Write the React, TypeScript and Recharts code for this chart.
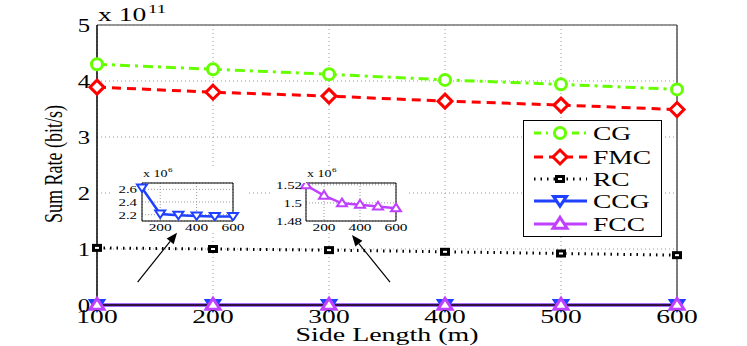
import React from 'react';
import { LineChart, Line, XAxis, YAxis, CartesianGrid, ReferenceLine, ReferenceArea, Legend } from 'recharts';

const xValues = [100, 200, 300, 400, 500, 600];
const cgValues = [4.30, 4.21, 4.12, 4.02, 3.94, 3.85];
const fmcValues = [3.89, 3.80, 3.73, 3.64, 3.57, 3.49];
const rcValues = [1.02, 1.00, 0.98, 0.95, 0.92, 0.89];
// inset values in units of 1e6
const ccgValues = [2.62, 2.21, 2.19, 2.18, 2.17, 2.17];
const fccValues = [1.5195, 1.508, 1.4995, 1.498, 1.496, 1.494];
const yTicks = [0, 1, 2, 3, 4, 5];
const xTicks = [100, 200, 300, 400, 500, 600];
const insetXTicks = [200, 400, 600];
const ccgTicks = [2.2, 2.4, 2.6];
const fccTicks = [1.48, 1.5, 1.52];
const seriesNames = ['CG', 'FMC', 'RC', 'CCG', 'FCC'];

const GREEN = '#66ff00';
const RED = '#ff0000';
const BLUE = '#2040ff';
const PURPLE = '#bf40ff';
const FONT = 'Liberation Serif, Times New Roman, serif';

const mainData = xValues.map((x, i) => ({
  x,
  CG: cgValues[i],
  FMC: fmcValues[i],
  RC: rcValues[i],
  CCG: (ccgValues[i] * 1e6) / 1e11,
  FCC: (fccValues[i] * 1e6) / 1e11,
}));
const ccgData = xValues.map((x, i) => ({ x, v: ccgValues[i] }));
const fccData = xValues.map((x, i) => ({ x, v: fccValues[i] }));

function StretchTick(p: any) {
  const { x, y, payload, ox = 0, oy = 0, anch = 'middle', size = 19, sx = 1.45, fmt } = p;
  const val = fmt ? fmt(payload.value) : payload.value;
  return (
    <text transform={`translate(${x + ox},${y + oy}) scale(${sx},1)`} textAnchor={anch} fontFamily={FONT} fontSize={size} fill="#000">
      {val}
    </text>
  );
}

const CircleDot = (p: any) => (p.cx == null ? <g /> : <circle cx={p.cx} cy={p.cy} r={5.5} fill="#fff" stroke={GREEN} strokeWidth={3} />);
const DiamondDot = (p: any) =>
  p.cx == null ? <g /> : (
    <polygon points={`${p.cx},${p.cy - 7} ${p.cx + 7},${p.cy} ${p.cx},${p.cy + 7} ${p.cx - 7},${p.cy}`} fill="#fff" stroke={RED} strokeWidth={3} />
  );
const SquareDot = (p: any) =>
  p.cx == null ? <g /> : (
    <g>
      <rect x={p.cx - 5} y={p.cy - 4} width={10} height={8} fill="#000" />
      <rect x={p.cx - 2} y={p.cy - 1} width={4} height={2} fill="#fff" />
    </g>
  );
const makeDown = (s: number, color: string, w: number) => (p: any) =>
  p.cx == null ? <g /> : (
    <polygon points={`${p.cx - s},${p.cy - s * 0.7} ${p.cx + s},${p.cy - s * 0.7} ${p.cx},${p.cy + s * 0.8}`} fill="#fff" stroke={color} strokeWidth={w} strokeLinejoin="miter" />
  );
const makeUp = (s: number, color: string, w: number) => (p: any) =>
  p.cx == null ? <g /> : (
    <polygon points={`${p.cx},${p.cy - s * 0.95} ${p.cx + s},${p.cy + s * 0.6} ${p.cx - s},${p.cy + s * 0.6}`} fill="#fff" stroke={color} strokeWidth={w} strokeLinejoin="miter" />
  );
const DownBig = makeDown(6.5, BLUE, 3);
const UpBig = makeUp(7, PURPLE, 3);
const DownSmall = makeDown(5, BLUE, 2);
const UpSmall = makeUp(5, PURPLE, 2);

const Arrow = (p: any) => {
  const { x1, y1, x2, y2 } = p;
  if (x1 == null) return <g />;
  const dx = x2 - x1;
  const dy = y2 - y1;
  const len = Math.sqrt(dx * dx + dy * dy);
  const ux = dx / len;
  const uy = dy / len;
  const hl = 11;
  const hw = 4.5;
  const bx = x2 - ux * hl;
  const by = y2 - uy * hl;
  return (
    <g>
      <line x1={x1} y1={y1} x2={bx} y2={by} stroke="#000" strokeWidth={1.2} />
      <polygon points={`${x2},${y2} ${bx - uy * hw},${by + ux * hw} ${bx + uy * hw},${by - ux * hw}`} fill="#000" />
    </g>
  );
};

const legendStyles = [
  { name: seriesNames[0], color: GREEN, dash: '7 5 2 5', Dot: CircleDot },
  { name: seriesNames[1], color: RED, dash: '9 6', Dot: DiamondDot },
  { name: seriesNames[2], color: '#000', dash: '1.5 5', Dot: SquareDot },
  { name: seriesNames[3], color: BLUE, dash: undefined, Dot: DownBig },
  { name: seriesNames[4], color: PURPLE, dash: undefined, Dot: UpBig },
];

const LegendBox = () => {
  const rows = [13, 37, 59, 81, 104];
  return (
    <svg width={139} height={117} style={{ display: 'block' }}>
      <rect x={0.5} y={0.5} width={138} height={116} fill="#fff" stroke="#000" strokeWidth={1} />
      {legendStyles.map((s, i) => {
        const D = s.Dot;
        return (
          <g key={s.name}>
            <line x1={11} y1={rows[i]} x2={64} y2={rows[i]} stroke={s.color} strokeWidth={3} strokeDasharray={s.dash} />
            <D cx={37} cy={rows[i]} />
            <text transform={`translate(70,${rows[i] + 7}) scale(1.45,1)`} fontFamily={FONT} fontSize={19} fill="#000">
              {s.name}
            </text>
          </g>
        );
      })}
    </svg>
  );
};

export default function App() {
  return (
    <div style={{ position: 'absolute', left: 0, top: 0, width: 747, height: 346, background: '#fff' }}>
      <LineChart width={747} height={346} data={mainData} margin={{ top: 25, right: 70, left: 0, bottom: 0 }}>
        <CartesianGrid strokeDasharray="1 3" stroke="#9a9a9a" />
        <XAxis
          dataKey="x"
          type="number"
          domain={[100, 600]}
          ticks={xTicks}
          height={41}
          tickLine={false}
          tickSize={0}
          tickMargin={0}
          axisLine={{ stroke: '#000', strokeWidth: 1.5 }}
          tick={(p: any) => <StretchTick {...p} oy={18} anch="middle" size={19} sx={1.45} />}
          interval={0}
        />
        <YAxis
          type="number"
          domain={[0, 5]}
          ticks={yTicks}
          width={97}
          tickLine={false}
          tickSize={0}
          tickMargin={0}
          axisLine={{ stroke: '#000', strokeWidth: 1.5 }}
          tick={(p: any) => <StretchTick {...p} ox={-7} oy={7} anch="end" size={19} sx={1.3} />}
          interval={0}
        />
        <ReferenceLine y={5} stroke="#777" strokeWidth={1.5} />
        <ReferenceLine x={600} stroke="#555" strokeWidth={1.5} />
        <ReferenceLine segment={[{ x: 135, y: 0.41 }, { x: 169, y: 1.29 }]} stroke="#000" shape={Arrow} ifOverflow="visible" />
        <ReferenceLine segment={[{ x: 352.6, y: 0.41 }, { x: 319.8, y: 1.25 }]} stroke="#000" shape={Arrow} ifOverflow="visible" />
        <Line dataKey="CG" stroke={GREEN} strokeWidth={3} strokeDasharray="10 5 3 5" dot={CircleDot} isAnimationActive={false} />
        <Line dataKey="FMC" stroke={RED} strokeWidth={3} strokeDasharray="9 6" dot={DiamondDot} isAnimationActive={false} />
        <Line dataKey="RC" stroke="#000" strokeWidth={3} strokeDasharray="1.5 5" dot={SquareDot} isAnimationActive={false} />
        <Line dataKey="CCG" stroke={BLUE} strokeWidth={3} dot={DownBig} isAnimationActive={false} />
        <Line dataKey="FCC" stroke={PURPLE} strokeWidth={3} dot={UpBig} isAnimationActive={false} />
        <Legend
          layout="horizontal"
          verticalAlign="middle"
          align="center"
          content={() => <LegendBox />}
          wrapperStyle={{ position: 'absolute', left: 523, top: 120, width: 139, height: 117 }}
        />
        <text transform="translate(98,21) scale(1.45,1)" fontFamily={FONT} fontSize={19} fill="#000">
          x 10
        </text>
        <text transform="translate(148,13) scale(1.45,1)" fontFamily={FONT} fontSize={13} fill="#000">
          11
        </text>
        <text transform="translate(387,341) scale(1.47,1)" textAnchor="middle" fontFamily={FONT} fontSize={19} fill="#000">
          Side Length (m)
        </text>
        <text transform="translate(62,164) scale(1.35,1) rotate(-90)" textAnchor="middle" fontFamily={FONT} fontSize={18} fill="#000">
          Sum Rate (bit/s)
        </text>
      </LineChart>

      <div style={{ position: 'absolute', left: 112, top: 166, width: 134, height: 66, background: '#fff' }}>
        <LineChart width={134} height={66} data={ccgData} margin={{ top: 17, right: 13, left: 0, bottom: 0 }}>
          <CartesianGrid strokeDasharray="1 2" stroke="#9a9a9a" />
          <XAxis dataKey="x" type="number" domain={[100, 600]} ticks={insetXTicks} height={11} tickLine={false} tickSize={0} tickMargin={0} axisLine={false}
            tick={(p: any) => <StretchTick {...p} oy={10} anch="middle" size={11} sx={1.4} />} interval={0} />
          <YAxis type="number" domain={[2.1, 2.7]} ticks={ccgTicks} width={30} tickLine={false} tickSize={0} tickMargin={0} axisLine={false} allowDataOverflow
            tick={(p: any) => <StretchTick {...p} ox={-5} oy={4} anch="end" size={11} sx={1.35} fmt={(v: number) => v.toFixed(1)} />} interval={0} />
          <ReferenceArea x1={100} x2={600} y1={2.1} y2={2.7} fill="none" stroke="#000" strokeWidth={1} ifOverflow="visible" />
          <Line dataKey="v" stroke={BLUE} strokeWidth={2.5} dot={DownSmall} isAnimationActive={false} />
          <text transform="translate(31,11) scale(1.4,1)" fontFamily={FONT} fontSize={10} fill="#000">x 10</text>
          <text transform="translate(56,6) scale(1.3,1)" fontFamily={FONT} fontSize={7} fill="#000">6</text>
        </LineChart>
      </div>

      <div style={{ position: 'absolute', left: 273, top: 166, width: 136, height: 66, background: '#fff' }}>
        <LineChart width={136} height={66} data={fccData} margin={{ top: 17, right: 13, left: 0, bottom: 0 }}>
          <CartesianGrid strokeDasharray="1 2" stroke="#9a9a9a" />
          <XAxis dataKey="x" type="number" domain={[100, 600]} ticks={insetXTicks} height={11} tickLine={false} tickSize={0} tickMargin={0} axisLine={false}
            tick={(p: any) => <StretchTick {...p} oy={10} anch="middle" size={11} sx={1.4} />} interval={0} />
          <YAxis type="number" domain={[1.48, 1.522]} ticks={fccTicks} width={33} tickLine={false} tickSize={0} tickMargin={0} axisLine={false} allowDataOverflow
            tick={(p: any) => <StretchTick {...p} ox={-4} oy={4} anch="end" size={11} sx={1.35} fmt={(v: number) => String(v)} />} interval={0} />
          <ReferenceArea x1={100} x2={600} y1={1.48} y2={1.522} fill="none" stroke="#000" strokeWidth={1} ifOverflow="visible" />
          <Line dataKey="v" stroke={PURPLE} strokeWidth={2.5} dot={UpSmall} isAnimationActive={false} />
          <text transform="translate(34,11) scale(1.4,1)" fontFamily={FONT} fontSize={10} fill="#000">x 10</text>
          <text transform="translate(59,6) scale(1.3,1)" fontFamily={FONT} fontSize={7} fill="#000">6</text>
        </LineChart>
      </div>
    </div>
  );
}
